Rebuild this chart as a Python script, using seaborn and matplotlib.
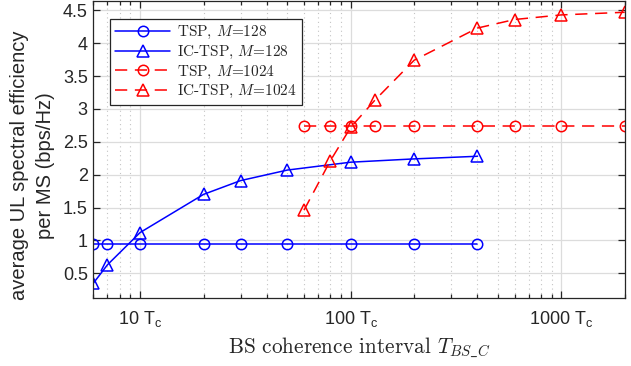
import matplotlib
matplotlib.use("Agg")
import matplotlib.pyplot as plt
import seaborn as sns
import pandas as pd
from matplotlib.ticker import FixedLocator, LogLocator, NullFormatter
from matplotlib.font_manager import FontProperties

# ---- data ----
x_m128 = [6, 7, 10, 20, 30, 50, 100, 200, 400]
y_tsp_m128 = [0.94, 0.94, 0.94, 0.94, 0.94, 0.94, 0.94, 0.94, 0.94]
y_ictsp_m128 = [0.35, 0.63, 1.12, 1.70, 1.91, 2.07, 2.19, 2.24, 2.28]

x_m1024 = [60, 80, 100, 130, 200, 400, 600, 1000, 2000]
y_tsp_m1024 = [2.74, 2.74, 2.74, 2.74, 2.74, 2.74, 2.74, 2.74, 2.74]
y_ictsp_m1024 = [1.46, 2.21, 2.72, 3.13, 3.74, 4.23, 4.36, 4.43, 4.47]

labels = ["TSP, $M$=128", "IC-TSP, $M$=128", "TSP, $M$=1024", "IC-TSP, $M$=1024"]
xtick_vals = [10, 100, 1000]
xtick_labels = [r"10 T$_\mathrm{c}$", r"100 T$_\mathrm{c}$", r"1000 T$_\mathrm{c}$"]
ytick_vals = [0.5, 1, 1.5, 2, 2.5, 3, 3.5, 4, 4.5]
ytick_labels = ["0.5", "1", "1.5", "2", "2.5", "3", "3.5", "4", "4.5"]

sns.set_theme(style="white")
plt.rcParams["font.family"] = ["Liberation Sans", "DejaVu Sans"]
plt.rcParams["mathtext.fontset"] = "custom"
plt.rcParams["mathtext.rm"] = "Liberation Sans"
plt.rcParams["mathtext.it"] = "Liberation Sans:italic"
plt.rcParams["axes.unicode_minus"] = False

fig = plt.figure(figsize=(6.31, 3.66), dpi=100)
ax = fig.add_axes([0.148, 0.185, 0.842, 0.812])

series = [
    (x_m128, y_tsp_m128, "blue", "o", "-", 7.5, labels[0]),
    (x_m128, y_ictsp_m128, "blue", "^", "-", 9, labels[1]),
    (x_m1024, y_tsp_m1024, "red", "o", (0, (8, 5)), 7.5, labels[2]),
    (x_m1024, y_ictsp_m1024, "red", "^", (0, (8, 5)), 9, labels[3]),
]
for xs, ys, col, mk, ls, ms, lab in series:
    df = pd.DataFrame({"x": xs, "y": ys})
    sns.lineplot(data=df, x="x", y="y", ax=ax, color=col, marker=mk,
                 markersize=ms, markerfacecolor="none", markeredgecolor=col,
                 markeredgewidth=1.1, linewidth=1.1, linestyle=ls,
                 estimator=None, sort=False, label=lab, legend=False)

ax.set_xscale("log")
ax.set_xlim(6, 2000)
ax.set_ylim(0.12, 4.64)
ax.xaxis.set_major_locator(FixedLocator(xtick_vals))
ax.set_xticklabels(xtick_labels)
ax.xaxis.set_minor_locator(LogLocator(base=10, subs=[2, 3, 4, 5, 6, 7, 8, 9], numticks=20))
ax.xaxis.set_minor_formatter(NullFormatter())
ax.set_yticks(ytick_vals)
ax.set_yticklabels(ytick_labels)

ax.grid(True, which="major", color="#dcdcdc", linewidth=0.9, linestyle="-")
ax.grid(True, which="minor", axis="x", color="#c4c4c4", linewidth=0.8, linestyle=(0, (1, 3)))
ax.set_axisbelow(True)

for s in ax.spines.values():
    s.set_color("#262626")
    s.set_linewidth(0.9)
ax.tick_params(which="both", direction="in", bottom=True, left=True, top=True, right=True,
               colors="#262626", labelcolor="#262626", width=0.9)
ax.tick_params(which="major", length=5, labelsize=13)
ax.tick_params(axis="y", which="major", pad=4)
ax.tick_params(axis="x", which="major", pad=8)
ax.tick_params(which="minor", length=3)

ax.set_ylabel("average UL spectral efficiency\nper MS (bps/Hz)", fontsize=14.5,
              color="#262626", linespacing=1.45)
ax.yaxis.set_label_coords(-0.072, 0.448)
ax.set_xlabel(r"BS coherence interval $T_{BS\_C}$", fontsize=15.3, family="cmr10",
              color="#262626", math_fontfamily="cm", labelpad=4)

leg = ax.legend(loc="upper left", bbox_to_anchor=(0.0314, 0.9395), borderaxespad=0,
                prop=FontProperties(family="cmr10", size=11, math_fontfamily="cm"),
                handlelength=3.6, labelspacing=0.16, frameon=True, fancybox=False,
                framealpha=1, edgecolor="#262626", borderpad=0.35, handletextpad=0.4)
leg.get_frame().set_linewidth(0.9)
for t in leg.get_texts():
    t.set_color("#262626")

fig.savefig("out.png", dpi=100)
